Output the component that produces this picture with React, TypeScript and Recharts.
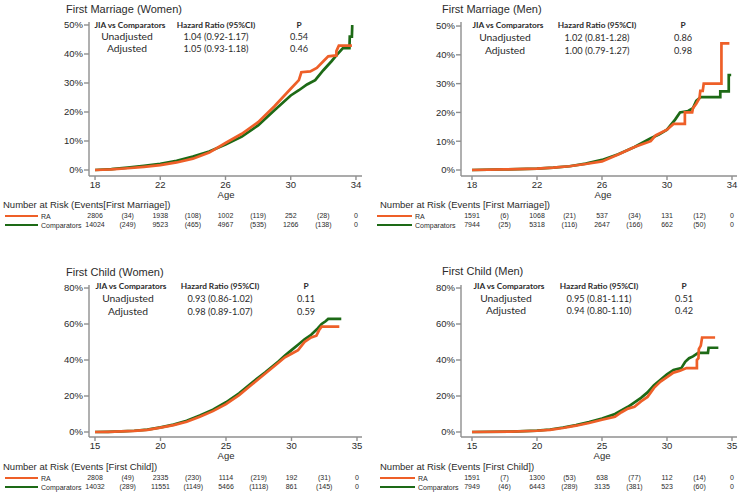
import React from 'react'
import { LineChart, Line, XAxis, YAxis } from 'recharts'

// cumulative incidence (%); repeated ages are the visible steps
const marriageWomenRA = [
  { age: 18, pct: 0 }, { age: 19, pct: 0.2 }, { age: 20, pct: 0.6 }, { age: 21, pct: 1.1 },
  { age: 22, pct: 1.7 }, { age: 23, pct: 2.6 }, { age: 24, pct: 3.9 }, { age: 25, pct: 6.0 },
  { age: 26, pct: 9.3 }, { age: 27, pct: 12.5 }, { age: 28, pct: 16.5 }, { age: 29, pct: 22.0 },
  { age: 30, pct: 28.0 }, { age: 30.5, pct: 31.0 }, { age: 30.65, pct: 33.7 }, { age: 31.2, pct: 34.0 },
  { age: 31.6, pct: 35.2 }, { age: 32, pct: 37.5 }, { age: 32.3, pct: 39.2 }, { age: 32.8, pct: 39.5 },
  { age: 32.8, pct: 41.0 }, { age: 32.95, pct: 42.9 }, { age: 33.75, pct: 42.9 },
]
const marriageWomenComp = [
  { age: 18, pct: 0 }, { age: 19, pct: 0.3 }, { age: 20, pct: 0.8 }, { age: 21, pct: 1.4 },
  { age: 22, pct: 2.1 }, { age: 23, pct: 3.2 }, { age: 24, pct: 4.6 }, { age: 25, pct: 6.4 },
  { age: 26, pct: 8.8 }, { age: 27, pct: 11.5 }, { age: 28, pct: 15.4 }, { age: 29, pct: 20.6 },
  { age: 30, pct: 25.7 }, { age: 30.5, pct: 27.5 }, { age: 31, pct: 29.5 }, { age: 31.5, pct: 31.0 },
  { age: 32, pct: 34.4 }, { age: 32.5, pct: 37.5 }, { age: 32.8, pct: 39.5 }, { age: 33.2, pct: 42.0 },
  { age: 33.6, pct: 42.0 }, { age: 33.62, pct: 46.0 }, { age: 33.75, pct: 46.0 }, { age: 33.77, pct: 49.5 },
  { age: 33.85, pct: 49.5 },
]
const marriageMenRA = [
  { age: 18, pct: 0 }, { age: 20, pct: 0.2 }, { age: 22, pct: 0.5 }, { age: 23, pct: 0.8 },
  { age: 24, pct: 1.3 }, { age: 25, pct: 2.1 }, { age: 26, pct: 3.0 }, { age: 27, pct: 5.4 },
  { age: 28, pct: 8.0 }, { age: 29, pct: 10.0 }, { age: 29.3, pct: 12.0 }, { age: 30, pct: 14.0 },
  { age: 30.4, pct: 16.0 }, { age: 31.1, pct: 16.0 }, { age: 31.1, pct: 20.0 }, { age: 31.55, pct: 20.0 },
  { age: 31.6, pct: 21.5 }, { age: 31.8, pct: 23.0 }, { age: 32.0, pct: 25.0 }, { age: 32.05, pct: 27.5 },
  { age: 32.2, pct: 27.5 }, { age: 32.26, pct: 30.0 }, { age: 33.35, pct: 30.0 }, { age: 33.35, pct: 44.0 },
  { age: 33.84, pct: 44.0 },
]
const marriageMenComp = [
  { age: 18, pct: 0 }, { age: 20, pct: 0.2 }, { age: 22, pct: 0.5 }, { age: 23, pct: 0.8 },
  { age: 24, pct: 1.3 }, { age: 25, pct: 2.2 }, { age: 26, pct: 3.5 }, { age: 27, pct: 5.5 },
  { age: 28, pct: 8.0 }, { age: 29, pct: 11.0 }, { age: 29.5, pct: 12.3 }, { age: 30, pct: 14.0 },
  { age: 30.5, pct: 17.5 }, { age: 30.8, pct: 20.0 }, { age: 31.3, pct: 20.5 }, { age: 31.6, pct: 21.5 },
  { age: 31.8, pct: 24.0 }, { age: 32.0, pct: 25.0 }, { age: 32.1, pct: 25.3 }, { age: 33.28, pct: 25.3 },
  { age: 33.28, pct: 27.3 }, { age: 33.8, pct: 27.3 }, { age: 33.8, pct: 33.0 }, { age: 33.95, pct: 33.0 },
]
const childWomenRA = [
  { age: 15, pct: 0 }, { age: 16, pct: 0.1 }, { age: 17, pct: 0.3 }, { age: 18, pct: 0.6 },
  { age: 19, pct: 1.2 }, { age: 20, pct: 2.4 }, { age: 21, pct: 3.8 }, { age: 22, pct: 5.7 },
  { age: 23, pct: 8.5 }, { age: 24, pct: 11.6 }, { age: 25, pct: 15.5 }, { age: 26, pct: 20.5 },
  { age: 27, pct: 26.5 }, { age: 28, pct: 32.5 }, { age: 29, pct: 38.5 }, { age: 29.5, pct: 41.5 },
  { age: 30, pct: 43.5 }, { age: 30.5, pct: 45.5 }, { age: 31, pct: 50.0 }, { age: 31.5, pct: 52.5 },
  { age: 31.9, pct: 53.5 }, { age: 32.1, pct: 56.5 }, { age: 32.3, pct: 58.5 }, { age: 33.65, pct: 58.5 },
]
const childWomenComp = [
  { age: 15, pct: 0 }, { age: 16, pct: 0.1 }, { age: 17, pct: 0.3 }, { age: 18, pct: 0.7 },
  { age: 19, pct: 1.3 }, { age: 20, pct: 2.6 }, { age: 21, pct: 4.1 }, { age: 22, pct: 6.2 },
  { age: 23, pct: 9.2 }, { age: 24, pct: 12.4 }, { age: 25, pct: 16.5 }, { age: 26, pct: 21.5 },
  { age: 27, pct: 27.5 }, { age: 28, pct: 33.2 }, { age: 29, pct: 39.2 }, { age: 29.5, pct: 42.5 },
  { age: 30, pct: 45.5 }, { age: 30.5, pct: 48.5 }, { age: 31, pct: 51.5 }, { age: 31.5, pct: 54.0 },
  { age: 32, pct: 57.5 }, { age: 32.3, pct: 60.0 }, { age: 32.6, pct: 61.5 }, { age: 32.8, pct: 62.8 },
  { age: 33.8, pct: 62.8 },
]
const childMenRA = [
  { age: 15, pct: 0 }, { age: 18, pct: 0.2 }, { age: 20, pct: 0.7 }, { age: 21, pct: 1.2 },
  { age: 22, pct: 2.2 }, { age: 23, pct: 3.5 }, { age: 24, pct: 5.0 }, { age: 25, pct: 6.8 },
  { age: 26, pct: 8.5 }, { age: 26.5, pct: 11.0 }, { age: 27, pct: 13.0 }, { age: 27.5, pct: 14.0 },
  { age: 28, pct: 17.0 }, { age: 28.5, pct: 19.5 }, { age: 29, pct: 24.5 }, { age: 29.5, pct: 28.0 },
  { age: 30, pct: 30.5 }, { age: 30.5, pct: 33.0 }, { age: 31.0, pct: 34.0 }, { age: 31.5, pct: 35.5 },
  { age: 32.3, pct: 35.5 }, { age: 32.3, pct: 40.0 }, { age: 32.42, pct: 41.0 }, { age: 32.45, pct: 46.0 },
  { age: 32.6, pct: 48.0 }, { age: 32.7, pct: 52.5 }, { age: 33.7, pct: 52.5 },
]
const childMenComp = [
  { age: 15, pct: 0 }, { age: 18, pct: 0.2 }, { age: 20, pct: 0.8 }, { age: 21, pct: 1.4 },
  { age: 22, pct: 2.5 }, { age: 23, pct: 3.8 }, { age: 24, pct: 5.5 }, { age: 25, pct: 7.5 },
  { age: 26, pct: 10.0 }, { age: 27, pct: 14.0 }, { age: 27.5, pct: 16.5 }, { age: 28, pct: 19.0 },
  { age: 28.5, pct: 22.0 }, { age: 29, pct: 26.0 }, { age: 29.5, pct: 29.0 }, { age: 30, pct: 32.0 },
  { age: 30.5, pct: 34.5 }, { age: 31.1, pct: 35.5 }, { age: 31.4, pct: 39.0 }, { age: 31.7, pct: 41.0 },
  { age: 32.0, pct: 42.0 }, { age: 32.4, pct: 44.0 }, { age: 33.15, pct: 44.0 }, { age: 33.2, pct: 46.8 },
  { age: 33.95, pct: 46.8 },
]

// axis ticks
const marriageAgeTicks = [18, 22, 26, 30, 34]
const childAgeTicks = [15, 20, 25, 30, 35]
const marriagePctTicks = [0, 10, 20, 30, 40, 50]
const childPctTicks = [0, 20, 40, 60, 80]
const marriageRiskAges = [18, 20, 22, 24, 26, 28, 30, 32, 34]
const childRiskAges = [15, 17.5, 20, 22.5, 25, 27.5, 30, 32.5, 35]

// number at risk, events in between
const riskMarriageWomenRA = [2806, 34, 1938, 108, 1002, 119, 252, 28, 0]
const riskMarriageWomenComp = [14024, 249, 9523, 465, 4967, 535, 1266, 138, 0]
const riskMarriageMenRA = [1591, 6, 1068, 21, 537, 34, 131, 12, 0]
const riskMarriageMenComp = [7944, 25, 5318, 116, 2647, 166, 662, 50, 0]
const riskChildWomenRA = [2808, 49, 2335, 230, 1114, 219, 192, 31, 0]
const riskChildWomenComp = [14032, 289, 11551, 1149, 5466, 1118, 861, 145, 0]
const riskChildMenRA = [1591, 7, 1300, 53, 638, 77, 112, 14, 0]
const riskChildMenComp = [7949, 46, 6443, 289, 3135, 381, 523, 60, 0]

// hazard ratio tables
const hrMarriageWomen = [['1.04 (0.92-1.17)', '0.54'], ['1.05 (0.93-1.18)', '0.46']]
const hrMarriageMen = [['1.02 (0.81-1.28)', '0.86'], ['1.00 (0.79-1.27)', '0.98']]
const hrChildWomen = [['0.93 (0.86-1.02)', '0.11'], ['0.98 (0.89-1.07)', '0.59']]
const hrChildMen = [['0.95 (0.81-1.11)', '0.51'], ['0.94 (0.80-1.10)', '0.42']]

const ORANGE = '#EE5F28'
const GREEN = '#1D6A16'
const AXIS = '#8f8f8f'
const TEXT = '#2b2b2b'
const SANS = '"Liberation Sans", Arial, sans-serif'
const TABLE = 'Lato, "Open Sans", sans-serif'
const RISK_FONT = 7

const fmtRisk = (vals: number[]) => (_v: number, i: number) =>
  i % 2 === 1 ? `(${vals[i]})` : `${vals[i]}`

const Txt = ({ x, y, size, children, bold, font, anchor }: any) => (
  <div
    style={{
      position: 'absolute',
      left: x,
      top: y,
      transform: anchor === 'start' ? 'translateY(-50%)' : 'translate(-50%,-50%)',
      fontSize: size,
      fontWeight: bold ? 700 : 400,
      fontFamily: font || SANS,
      color: TEXT,
      whiteSpace: 'nowrap',
      lineHeight: 1,
    }}
  >
    {children}
  </div>
)

const Panel = (p: any) => {
  const chartH = p.axisY + p.mainH + p.raH + 10
  // rows only carry the ages so the risk-table axes get a domain
  const riskRows = p.riskAges.map((age: number) => ({ age }))
  const rowRA = p.axisY + p.mainH + 2.5
  const rowComp = rowRA + p.raH
  return (
    <div style={{ position: 'absolute', left: p.left, top: p.top, width: 372, height: 248 }}>
      <Txt x={p.titleX} y={p.titleY} size={11} anchor="start">{p.title}</Txt>

      <Txt x={p.hrX[0]} y={p.hrY[0]} size={8.3} bold font={TABLE}>JIA vs Comparators</Txt>
      <Txt x={p.hrX[1]} y={p.hrY[0]} size={8.3} bold font={TABLE}>Hazard Ratio (95%CI)</Txt>
      <Txt x={p.hrX[2]} y={p.hrY[0]} size={8.3} bold font={TABLE}>P</Txt>
      <Txt x={p.hrX[0] - 3} y={p.hrY[1] - 0.8} size={10.3} font={TABLE}>Unadjusted</Txt>
      <Txt x={p.hrX[1]} y={p.hrY[1]} size={9.2} font={TABLE}>{p.hr[0][0]}</Txt>
      <Txt x={p.hrX[2]} y={p.hrY[1]} size={9.2} font={TABLE}>{p.hr[0][1]}</Txt>
      <Txt x={p.hrX[0] - 3} y={p.hrY[2] - 0.8} size={10.3} font={TABLE}>Adjusted</Txt>
      <Txt x={p.hrX[1]} y={p.hrY[2]} size={9.2} font={TABLE}>{p.hr[1][0]}</Txt>
      <Txt x={p.hrX[2]} y={p.hrY[2]} size={9.2} font={TABLE}>{p.hr[1][1]}</Txt>

      <Txt x={p.ageX} y={p.axisY + 19} size={9.5}>Age</Txt>
      <Txt x={p.riskX} y={p.riskTitleY} size={9.5} anchor="start">{p.riskTitle}</Txt>

      <div style={{ position: 'absolute', left: p.legX0, top: rowRA - 1, width: p.legX1 - p.legX0, height: 2.2, background: ORANGE }} />
      <div style={{ position: 'absolute', left: p.legX0, top: rowComp - 1, width: p.legX1 - p.legX0, height: 2.2, background: GREEN }} />
      <Txt x={p.legX1 + 3} y={rowRA} size={RISK_FONT} anchor="start">RA</Txt>
      <Txt x={p.legX1 + 3} y={rowComp} size={RISK_FONT} anchor="start">Comparators</Txt>

      <div style={{ position: 'absolute', left: 0, top: 0 }}>
        <LineChart
          width={372}
          height={chartH}
          margin={{ top: p.plotTop, right: 372 - p.plotRight, left: 0, bottom: 0 }}
        >
          {/* bottom axes stack in id order: age, then the RA row, then the comparators row */}
          <XAxis
            xAxisId="a_age"
            type="number"
            dataKey="age"
            domain={p.xDomain}
            allowDataOverflow
            ticks={p.xTicks}
            interval={0}
            height={p.mainH}
            tickSize={4}
            tickMargin={1.5}
            stroke={AXIS}
            strokeWidth={1.4}
            tick={{ fontSize: 9.5, fill: TEXT, fontFamily: SANS }}
          />
          <XAxis
            xAxisId="b_ra"
            type="number"
            dataKey="age"
            domain={p.xDomain}
            allowDataOverflow
            ticks={p.riskAges}
            interval={0}
            height={p.raH}
            axisLine={false}
            tickLine={false}
            tickSize={0}
            tickMargin={0}
            tickFormatter={fmtRisk(p.riskRA)}
            tick={{ fontSize: RISK_FONT, fill: TEXT, fontFamily: SANS }}
          />
          <XAxis
            xAxisId="c_comp"
            type="number"
            dataKey="age"
            domain={p.xDomain}
            allowDataOverflow
            ticks={p.riskAges}
            interval={0}
            height={10}
            axisLine={false}
            tickLine={false}
            tickSize={0}
            tickMargin={0}
            tickFormatter={fmtRisk(p.riskComp)}
            tick={{ fontSize: RISK_FONT, fill: TEXT, fontFamily: SANS }}
          />
          <YAxis
            type="number"
            domain={p.yDomain}
            allowDataOverflow
            ticks={p.yTicks}
            interval={0}
            width={89}
            tickSize={5}
            tickMargin={1}
            stroke={AXIS}
            strokeWidth={1.4}
            tickFormatter={(v: number) => `${v}%`}
            tick={{ fontSize: 9.5, fill: TEXT, fontFamily: SANS }}
          />
          <Line xAxisId="b_ra" data={riskRows} dataKey="none" stroke="none" dot={false} isAnimationActive={false} />
          <Line xAxisId="c_comp" data={riskRows} dataKey="none" stroke="none" dot={false} isAnimationActive={false} />
          <Line
            xAxisId="a_age"
            data={p.comp}
            dataKey="pct"
            type="linear"
            stroke={GREEN}
            strokeWidth={2.7}
            dot={false}
            isAnimationActive={false}
          />
          <Line
            xAxisId="a_age"
            data={p.ra}
            dataKey="pct"
            type="linear"
            stroke={ORANGE}
            strokeWidth={2.7}
            dot={false}
            isAnimationActive={false}
          />
        </LineChart>
      </div>
    </div>
  )
}

export default function App() {
  return (
    <div style={{ position: 'absolute', left: 0, top: 0, width: 744, height: 496, background: '#fff', overflow: 'hidden' }}>
      <Panel
        left={0} top={0}
        title="First Marriage (Women)" titleX={66} titleY={9}
        plotTop={22} axisY={176} plotRight={362} mainH={37.5} raH={8.5}
        xDomain={[17.63, 34.37]} xTicks={marriageAgeTicks} yDomain={[-2.07, 51.03]} yTicks={marriagePctTicks}
        ra={marriageWomenRA} comp={marriageWomenComp}
        hr={hrMarriageWomen} hrX={[130, 216, 299]} hrY={[25, 37, 49]}
        ageX={226}
        riskTitle="Number at Risk (Events[First Marriage])" riskX={3} riskTitleY={204.5}
        riskAges={marriageRiskAges} riskRA={riskMarriageWomenRA} riskComp={riskMarriageWomenComp}
        legX0={5} legX1={38}
      />
      <Panel
        left={372} top={0}
        title="First Marriage (Men)" titleX={70} titleY={9}
        plotTop={22} axisY={176} plotRight={365} mainH={37.5} raH={8.5}
        xDomain={[17.323, 34.308]} xTicks={marriageAgeTicks} yDomain={[-2.08, 51.4]} yTicks={marriagePctTicks}
        ra={marriageMenRA} comp={marriageMenComp}
        hr={hrMarriageMen} hrX={[136, 225, 311]} hrY={[25, 37.7, 51]}
        ageX={231}
        riskTitle="Number at Risk (Events [First Marriage])" riskX={8} riskTitleY={204.5}
        riskAges={marriageRiskAges} riskRA={riskMarriageMenRA} riskComp={riskMarriageMenComp}
        legX0={5} legX1={40}
      />
      <Panel
        left={0} top={250}
        title="First Child (Women)" titleX={66} titleY={22}
        plotTop={35} axisY={187} plotRight={362} mainH={38.5} raH={9}
        xDomain={[14.542, 35.382]} xTicks={childAgeTicks} yDomain={[-2.78, 81.67]} yTicks={childPctTicks}
        ra={childWomenRA} comp={childWomenComp}
        hr={hrChildWomen} hrX={[131, 220, 306]} hrY={[36, 49, 62]}
        ageX={226}
        riskTitle="Number at Risk (Events [First Child])" riskX={3} riskTitleY={217.2}
        riskAges={childRiskAges} riskRA={riskChildWomenRA} riskComp={riskChildWomenComp}
        legX0={5} legX1={38}
      />
      <Panel
        left={372} top={250}
        title="First Child (Men)" titleX={70} titleY={21}
        plotTop={35} axisY={187} plotRight={365} mainH={38.5} raH={9}
        xDomain={[14.154, 35.385]} xTicks={childAgeTicks} yDomain={[-2.78, 81.67]} yTicks={childPctTicks}
        ra={childMenRA} comp={childMenComp}
        hr={hrChildMen} hrX={[137, 227, 312]} hrY={[36, 48.5, 61]}
        ageX={230}
        riskTitle="Number at Risk (Events [First Child])" riskX={8} riskTitleY={217.2}
        riskAges={childRiskAges} riskRA={riskChildMenRA} riskComp={riskChildMenComp}
        legX0={8} legX1={43}
      />
    </div>
  )
}
